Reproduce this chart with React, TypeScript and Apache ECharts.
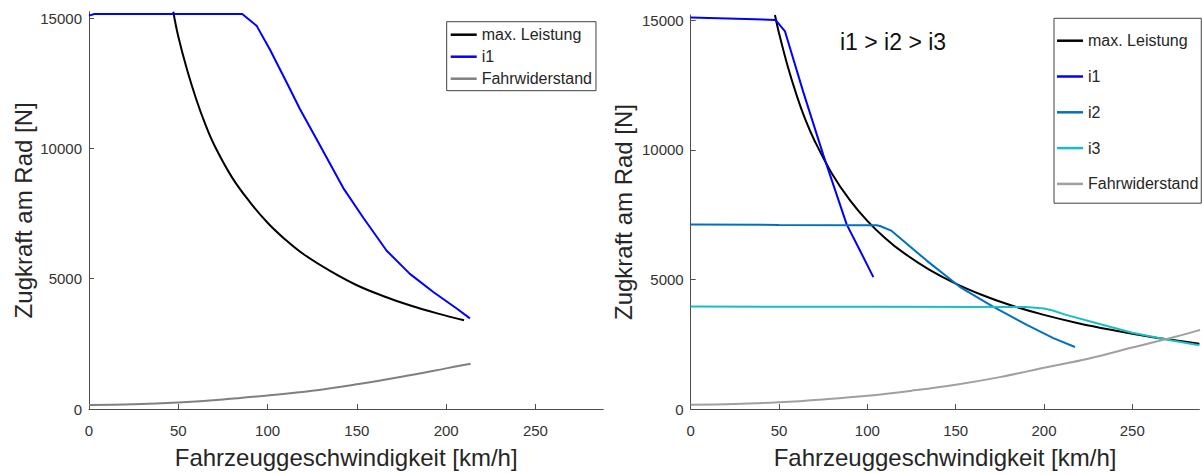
import React, { useEffect, useRef } from "react";
import * as echarts from "echarts";

// ---- Left panel: single gear ----
const leftPowerSpeed = [47.2, 50, 55, 60, 65, 70, 80, 90, 100, 110, 120, 135, 150, 165, 180, 195, 210];
const leftPowerForce = [15250, 14300, 13000, 11900, 10950, 10150, 8900, 7950, 7150, 6500, 5950, 5300, 4750, 4330, 3970, 3670, 3410];

const leftI1Speed = [0, 3, 85.8, 93.9, 101.3, 110.7, 118.1, 129.3, 142.4, 153.6, 166.7, 179.7, 192.8, 205.9, 213.3];
const leftI1Force = [15100, 15160, 15160, 14706, 13798, 12530, 11516, 10123, 8479, 7340, 6075, 5187, 4492, 3858, 3478];

const leftResSpeed = [0, 25, 50, 75, 100, 125, 150, 175, 200, 213.7];
const leftResForce = [155, 180, 250, 365, 520, 700, 950, 1240, 1560, 1740];

// ---- Right panel: three gears ----
const rightPowerSpeed = [47.7, 50, 55, 60, 65, 70, 80, 90, 100, 110, 120, 135, 150, 165, 180, 200, 220, 240, 260, 275, 288];
const rightPowerForce = [15200, 14500, 13200, 12100, 11150, 10370, 9080, 8070, 7260, 6600, 6050, 5380, 4840, 4400, 4030, 3630, 3300, 3030, 2790, 2640, 2520];

const rightI1Speed = [0, 48, 53.4, 63.8, 75.1, 88.3, 95.9, 103.4];
const rightI1Force = [15100, 15010, 14566, 12214, 9795, 7122, 6107, 5088];

const rightI2Speed = [0, 50, 100, 105.3, 107.2, 113.8, 133.6, 152.5, 171.4, 190.3, 205.3, 217.6];
const rightI2Force = [7120, 7100, 7090, 7090, 7060, 6870, 5725, 4706, 3943, 3244, 2733, 2390];

const rightI3Speed = [0, 100, 190, 200, 205, 212, 230, 250, 270, 288];
const rightI3Force = [3950, 3940, 3935, 3880, 3800, 3640, 3310, 2940, 2670, 2460];

const rightResSpeed = [0, 25, 50, 75, 100, 125, 150, 175, 200, 225, 250, 275, 288.4];
const rightResForce = [164, 190, 260, 370, 510, 705, 935, 1230, 1590, 1940, 2370, 2800, 3054];

const xTicks = [0, 50, 100, 150, 200, 250];
const yTicks = [0, 5000, 10000, 15000];

const xTitle = "Fahrzeuggeschwindigkeit [km/h]";
const yTitle = "Zugkraft am Rad [N]";
const gearNote = "i1 > i2 > i3";

const FONT = '"Liberation Sans", Arial, Helvetica, sans-serif';
const AXIS_COLOR = "#4d4d4d";
const TEXT_COLOR = "#262626";

const COLORS = {
  power: "#000000",
  i1: "#0000ff",
  i2: "#0072bd",
  i3: "#17bfc4",
  resLeft: "#808080",
  resRight: "#a0a0a0",
};

const zip = (xs: number[], ys: number[]) => xs.map((x, i) => [x, ys[i]]);

function xAxis(gridIndex: number) {
  return {
    type: "value",
    gridIndex,
    min: 0,
    max: 288,
    name: xTitle,
    nameLocation: "middle",
    nameGap: 36,
    nameTextStyle: { fontSize: 24, color: TEXT_COLOR, fontFamily: FONT },
    axisLine: { show: true, onZero: false, lineStyle: { color: AXIS_COLOR, width: 1 } },
    axisTick: { show: true, inside: true, length: 5, customValues: xTicks, lineStyle: { color: AXIS_COLOR } },
    axisLabel: {
      customValues: xTicks,
      fontSize: 15,
      color: "#333",
      fontFamily: FONT,
      margin: 14,
      formatter: (v: number) => String(v),
    },
    splitLine: { show: false },
  };
}

function yAxis(gridIndex: number, max: number, gap: number) {
  return {
    type: "value",
    gridIndex,
    min: 0,
    max,
    name: yTitle,
    nameLocation: "middle",
    nameGap: gap,
    nameTextStyle: { fontSize: 24, color: TEXT_COLOR, fontFamily: FONT },
    axisLine: { show: true, onZero: false, lineStyle: { color: AXIS_COLOR, width: 1 } },
    axisTick: { show: true, inside: true, length: 5, customValues: yTicks, lineStyle: { color: AXIS_COLOR } },
    axisLabel: {
      customValues: yTicks,
      fontSize: 15,
      color: "#333",
      fontFamily: FONT,
      margin: 7,
      formatter: (v: number) => String(v),
    },
    splitLine: { show: false },
  };
}

function line(name: string, data: number[][], color: string, axis: number, smooth: number | boolean = false) {
  return {
    type: "line",
    name,
    data,
    xAxisIndex: axis,
    yAxisIndex: axis,
    symbol: "none",
    showSymbol: false,
    smooth,
    clip: true,
    lineStyle: { color, width: 2 },
    itemStyle: { color },
  };
}

function legendEntry(name: string, color: string) {
  return { name, icon: "rect", itemStyle: { color, borderWidth: 0 } };
}

export default function App() {
  const ref = useRef<HTMLDivElement>(null);

  useEffect(() => {
    if (!ref.current) return;
    const chart = echarts.init(ref.current, undefined, { renderer: "svg" });

    const legendText = { fontSize: 16, color: TEXT_COLOR, fontFamily: FONT, lineHeight: 16 };
    const legendBase = {
      orient: "vertical",
      itemWidth: 26,
      itemHeight: 2.5,
      borderColor: "#404040",
      borderWidth: 1,
      borderRadius: 0,
      backgroundColor: "#ffffff",
      textStyle: legendText,
    };

    chart.setOption({
      animation: false,
      backgroundColor: "#ffffff",
      grid: [
        { left: 89, top: 11.7, width: 514.3, height: 401.6 },
        { left: 690.7, top: 15, width: 508.7, height: 398.3 },
      ],
      xAxis: [xAxis(0), xAxis(1)],
      yAxis: [yAxis(0, 15250, 54), yAxis(1, 15200, 55)],
      legend: [
        {
          ...legendBase,
          left: 446.7,
          top: 21.7,
          padding: [5, 4, 4, 4],
          itemGap: 6,
          data: [
            legendEntry("max. Leistung", COLORS.power),
            legendEntry("i1", COLORS.i1),
            legendEntry("Fahrwiderstand", COLORS.resLeft),
          ],
        },
        {
          ...legendBase,
          left: 1054,
          top: 18.3,
          padding: [14.4, 3, 11.3, 3],
          itemGap: 19.8,
          data: [
            legendEntry("max. Leistung", COLORS.power),
            legendEntry("i1", COLORS.i1),
            legendEntry("i2", COLORS.i2),
            legendEntry("i3", COLORS.i3),
            legendEntry("Fahrwiderstand", COLORS.resRight),
          ],
        },
      ],
      graphic: [
        {
          type: "text",
          left: 840,
          top: 30,
          style: { text: gearNote, fontSize: 23, fontFamily: FONT, fill: "#111111" },
        },
      ],
      series: [
        line("max. Leistung", zip(leftPowerSpeed, leftPowerForce), COLORS.power, 0, 0.4),
        line("i1", zip(leftI1Speed, leftI1Force), COLORS.i1, 0),
        line("Fahrwiderstand", zip(leftResSpeed, leftResForce), COLORS.resLeft, 0, 0.4),
        line("max. Leistung", zip(rightPowerSpeed, rightPowerForce), COLORS.power, 1, 0.4),
        line("i1", zip(rightI1Speed, rightI1Force), COLORS.i1, 1),
        line("i2", zip(rightI2Speed, rightI2Force), COLORS.i2, 1),
        line("i3", zip(rightI3Speed, rightI3Force), COLORS.i3, 1),
        line("Fahrwiderstand", zip(rightResSpeed, rightResForce), COLORS.resRight, 1, 0.4),
      ],
    });

    return () => chart.dispose();
  }, []);

  return (
    <div
      ref={ref}
      style={{ position: "absolute", left: 0, top: 0, width: 1202, height: 474, background: "#fff" }}
    />
  );
}
